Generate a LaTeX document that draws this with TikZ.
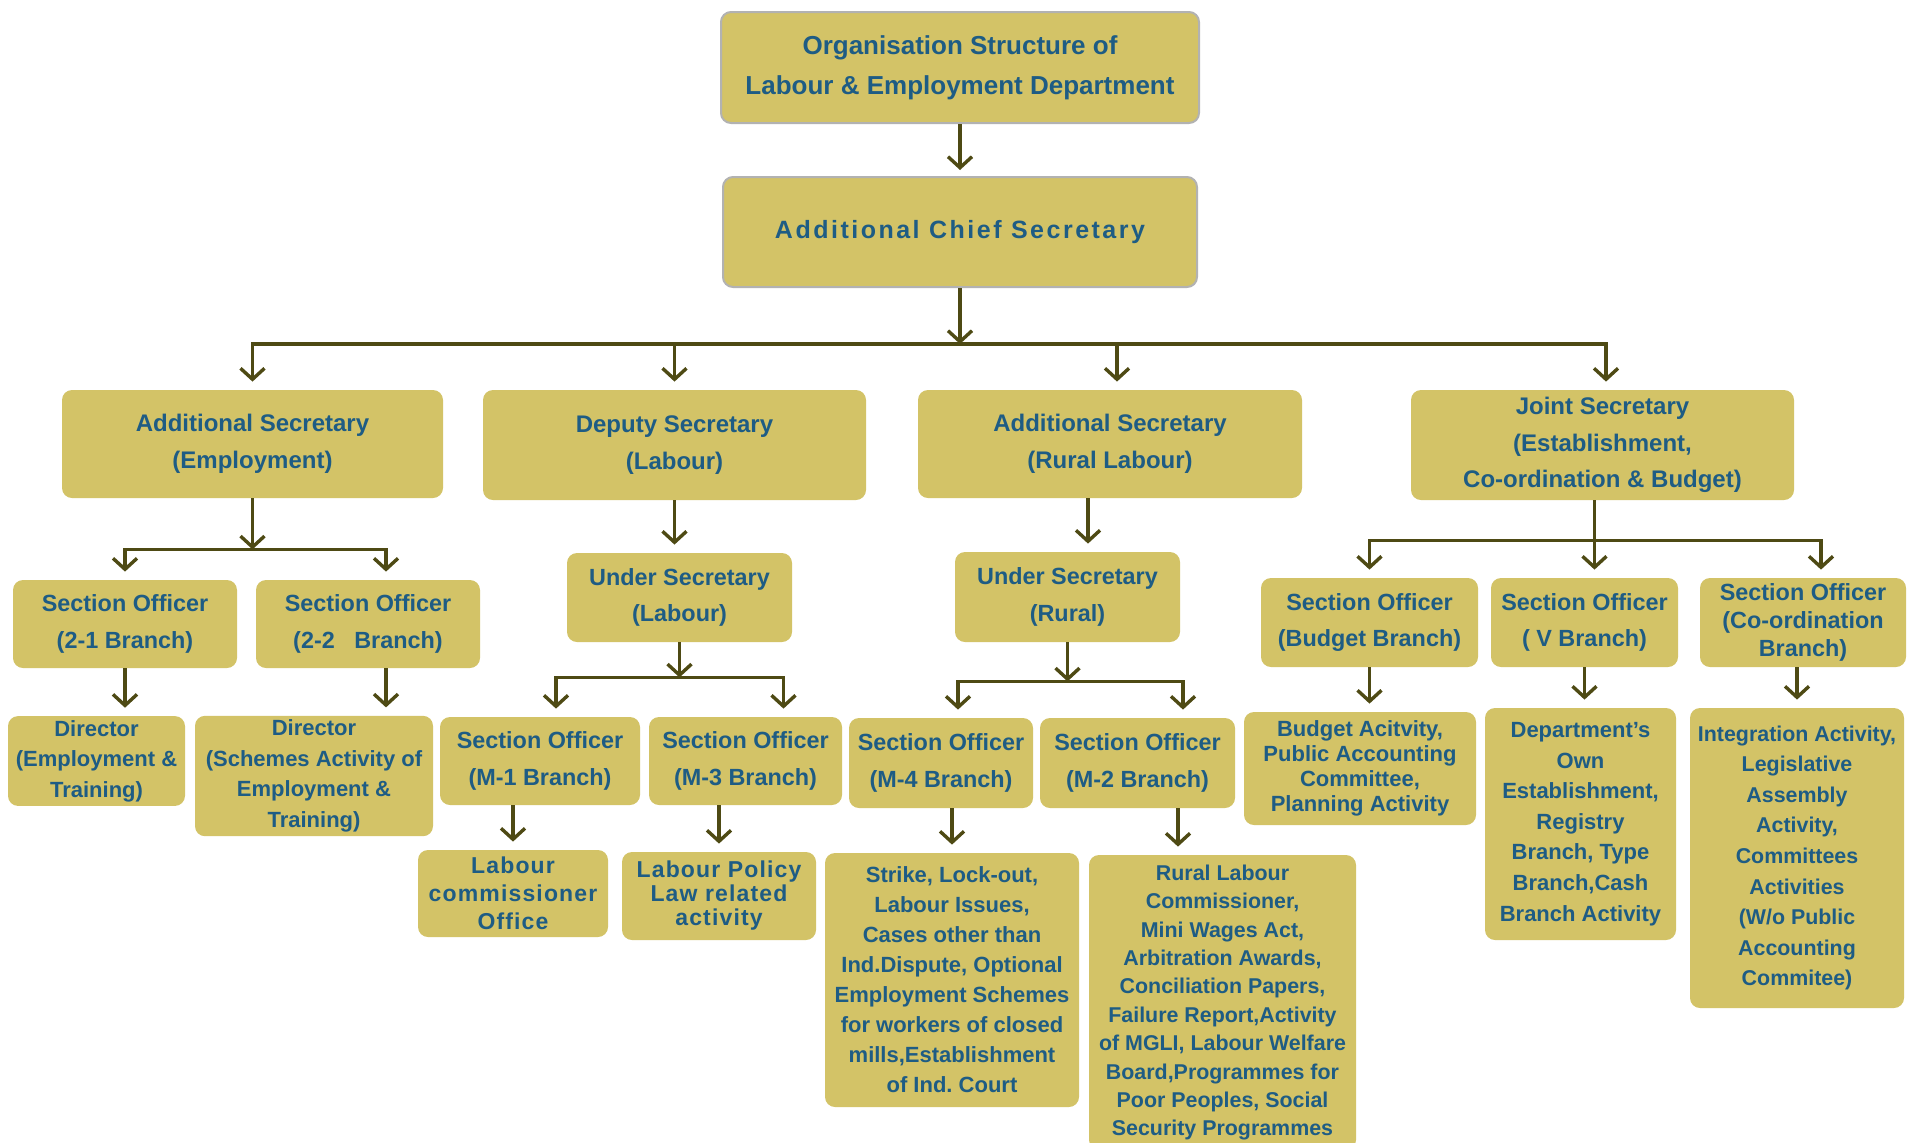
\documentclass[tikz,border=0pt]{standalone}
\usepackage{fontspec}
\setmainfont{Liberation Sans}
\newfontfamily\largo[LetterSpace=10]{Liberation Sans}
\newfontfamily\largino[LetterSpace=5]{Liberation Sans}
\usepackage{tikz}
\usetikzlibrary{positioning, arrows.meta, calc}
\definecolor{cachi}{HTML}{D3C367}
\definecolor{inchiostro}{HTML}{1E5C84}
\definecolor{oliva}{HTML}{4E4A14}
\frenchspacing
\tikzset{
	>={Straight Barb[length=5.5pt, width=12pt]},
	% casella di un ufficio
	ufficio/.style={rectangle, rounded corners=5pt, fill=cachi, text=inchiostro, align=center, inner sep=2pt,
	                font=\fontsize{11.7}{18.3}\selectfont\bfseries},
	% caselle in cima (con bordo)
	vertice/.style={ufficio, draw=black!30, line width=1pt, font=\fontsize{13}{20}\selectfont\bfseries},
	% secretari
	secr/.style={ufficio, font=\fontsize{12}{18.3}\selectfont\bfseries},
	% caselle delle attività
	attivita/.style={ufficio, font=\fontsize{11}{15.3}\selectfont\bfseries},
	% collegamenti
	freccia/.style={->, line width=1.7pt, oliva, shorten >=4pt},
	linea/.style={line width=1.7pt, oliva},
}

\begin{document}
\begin{tikzpicture}[x=0.5pt, y=-0.5pt]
	\useasboundingbox (0,0) rectangle (1907,1142);

	\node[vertice, minimum width=239pt, minimum height=55.5pt] (top) at (960,67.5) {Organisation Structure of\\Labour \& Employment Department};
	\node[vertice, minimum width=237pt, minimum height=55pt, font=\fontsize{12.5}{18}\selectfont\largo\bfseries] (acs) at (960,232) {Additional Chief Secretary};

	% secretari
	\node[secr, minimum width=190.5pt, minimum height=54pt] (ase) at (252.5,444) {Additional Secretary\\(Employment)};
	\node[secr, minimum width=191.5pt, minimum height=55pt] (dsl) at (674.5,445) {Deputy Secretary\\(Labour)};
	\node[secr, minimum width=192pt, minimum height=54pt] (asr) at (1110,444) {Additional Secretary\\(Rural Labour)};
	\node[secr, minimum width=191.5pt, minimum height=55pt] (jsb) at (1602.5,445) {Joint Secretary\\(Establishment,\\Co-ordination \& Budget)};

	% under secretary e section officer
	\node[ufficio, minimum width=112pt, minimum height=44pt] (so21) at (125,624) {Section Officer\\(2-1 Branch)};
	\node[ufficio, minimum width=112pt, minimum height=44pt] (so22) at (368,624) {Section Officer\\(2-2\ \ \ Branch)};
	\node[ufficio, minimum width=112.5pt, minimum height=44.5pt] (usl) at (679.5,597.5) {Under Secretary\\(Labour)};
	\node[ufficio, minimum width=112.5pt, minimum height=45pt] (usr) at (1067.5,597) {Under Secretary\\(Rural)};
	\node[ufficio, minimum width=108.5pt, minimum height=44.5pt] (sobu) at (1369.5,622.5) {Section Officer\\(Budget Branch)};
	\node[ufficio, minimum width=93.5pt, minimum height=44.5pt] (sov) at (1584.5,622.5) {Section Officer\\( V Branch)};
	\node[ufficio, minimum width=103pt, minimum height=44.5pt, font=\fontsize{11.7}{14}\selectfont\bfseries] (soco) at (1803,622.5) {Section Officer\\(Co-ordination\\Branch)};
	\node[ufficio, minimum width=100pt, minimum height=44pt] (som1) at (540,761) {Section Officer\\(M-1 Branch)};
	\node[ufficio, minimum width=96.5pt, minimum height=44pt] (som3) at (745.5,761) {Section Officer\\(M-3 Branch)};
	\node[ufficio, minimum width=92pt, minimum height=45pt] (som4) at (941,763) {Section Officer\\(M-4 Branch)};
	\node[ufficio, minimum width=97.5pt, minimum height=45pt] (som2) at (1137.5,763) {Section Officer\\(M-2 Branch)};

	% attività
	\node[attivita, minimum width=88.5pt, minimum height=44pt] (dire) at (96.5,761) {Director\\(Employment \&\\Training)};
	\node[attivita, minimum width=119pt, minimum height=59pt] (dirs) at (314,776) {Director\\(Schemes Activity of\\Employment \&\\Training)};
	\node[attivita, minimum width=95pt, minimum height=43.5pt, font=\fontsize{11.5}{14}\selectfont\largino\bfseries] (lco) at (513,893.5) {Labour\\commissioner\\Office};
	\node[attivita, minimum width=97pt, minimum height=44pt, font=\fontsize{11.5}{12}\selectfont\largino\bfseries] (lpl) at (719,896) {Labour Policy\\Law related\\activity};
	\node[attivita, minimum width=127pt, minimum height=127pt, font=\fontsize{11}{15}\selectfont\bfseries] (strk) at (952,980) {Strike, Lock-out,\\Labour Issues,\\Cases other than\\Ind.Dispute, Optional\\Employment Schemes\\for workers of closed\\mills,Establishment\\of Ind. Court};
	\node[attivita, minimum width=133.5pt, minimum height=147.5pt, font=\fontsize{10.7}{14.2}\selectfont\bfseries] (rlab) at (1222.5,1002.5) {Rural Labour\\Commissioner,\\Mini Wages Act,\\Arbitration Awards,\\Conciliation Papers,\\Failure Report,Activity\\of MGLI, Labour Welfare\\Board,Programmes for\\Poor Peoples, Social\\Security Programmes};
	\node[attivita, minimum width=116pt, minimum height=56.5pt, font=\fontsize{11}{12.5}\selectfont\bfseries] (bact) at (1360,768.5) {Budget Acitvity,\\Public Accounting\\Committee,\\Planning Activity};
	\node[attivita, minimum width=95.5pt, minimum height=116pt] (dept) at (1580.5,824) {Department's\\Own\\Establishment,\\Registry\\Branch, Type\\Branch,Cash\\Branch Activity};
	\node[attivita, minimum width=107pt, minimum height=150pt, font=\fontsize{10.7}{15.3}\selectfont\bfseries] (intg) at (1797,858) {Integration Activity,\\Legislative\\Assembly\\Activity,\\Committees\\Activities\\(W/o Public\\Accounting\\Commitee)};

	% sbarre
	\coordinate (sb0) at ([yshift=-28pt]acs.south);
	\coordinate (sb1) at ([yshift=-25.5pt]ase.south);
	\coordinate (sb2) at ([yshift=-17.5pt]usl.south);
	\coordinate (sb3) at ([yshift=-19.5pt]usr.south);
	\coordinate (sb4) at ([xshift=-4pt, yshift=-20pt]jsb.south);

	\draw[freccia, shorten >=3pt] (top) -- (acs);
	\draw[freccia, shorten >=0pt] (acs.south) -- (sb0);
	\draw[freccia] (sb0) -| (ase.north);
	\draw[freccia] (sb0) -| (dsl.north);
	\draw[freccia] (sb0) -| ([xshift=3.5pt]asr.north);
	\draw[freccia] (sb0) -| ([xshift=1.75pt]jsb.north);

	% employment
	\draw[freccia, shorten >=0pt] (ase.south) -- (sb1);
	\draw[freccia] (sb1) -| (so21.north);
	\draw[freccia] (sb1) -| ([xshift=9pt]so22.north);
	\draw[freccia] (so21.south) -- (so21.south |- dire.north);
	\draw[freccia] ([xshift=9pt]so22.south) -- ([xshift=36pt]dirs.north);

	% labour
	\draw[freccia] (dsl.south) -- (dsl.south |- usl.north);
	\draw[freccia, shorten >=0pt] (usl.south) -- (sb2);
	\draw[freccia] (sb2) -| ([xshift=8pt]som1.north);
	\draw[freccia] (sb2) -| ([xshift=19pt]som3.north);
	\draw[freccia] (som1.south -| lco.north) -- (lco.north);
	\draw[freccia] (som3.south -| lpl.north) -- (lpl.north);

	% rural labour
	\draw[freccia] ([xshift=-11pt]asr.south) -- ([xshift=10.25pt]usr.north);
	\draw[freccia, shorten >=0pt] (usr.south) -- (sb3);
	\draw[freccia] (sb3) -| ([xshift=8.5pt]som4.north);
	\draw[freccia] (sb3) -| ([xshift=22.75pt]som2.north);
	\draw[freccia] (som4.south -| strk.north) -- (strk.north);
	\draw[freccia] ([xshift=20.25pt]som2.south) -- ([xshift=-22.25pt]rlab.north);

	% establishment, co-ordination e budget
	\draw[linea] ([xshift=-4pt]jsb.south) -- (sb4);
	\draw[freccia] (sb4) -| (sobu.north);
	\draw[freccia] (sb4) -- (sb4 |- sov.north);
	\draw[freccia] (sb4) -| ([xshift=9pt]soco.north);
	\draw[freccia] (sobu.south) -- (sobu.south |- bact.north);
	\draw[freccia] (sov.south) -- (sov.south |- dept.north);
	\draw[freccia] (soco.south -| intg.north) -- (intg.north);
\end{tikzpicture}
\end{document}
